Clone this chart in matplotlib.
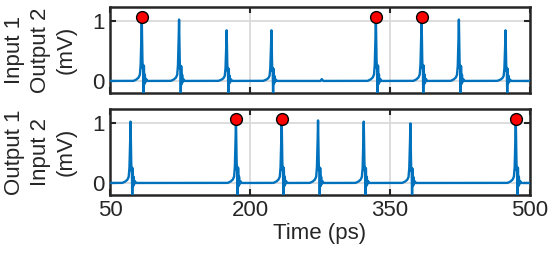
import numpy as np
import matplotlib.pyplot as plt

plt.rcParams['font.family'] = ['Liberation Sans', 'DejaVu Sans']

# spike times (ps) and peak heights (mV)
t_top = [84, 124, 175, 223, 335, 384, 424, 474]
h_top = [1.07, 1.03, 0.85, 0.85, 1.07, 1.07, 1.03, 0.85]
t_bot = [72, 185, 234, 273, 322, 372, 485]
h_bot = [1.03, 1.07, 1.07, 1.05, 1.03, 1.00, 1.07]

# marked spikes (red dots)
dot_top = [84, 335, 384]
dot_bot = [185, 234, 485]
dot_y = 1.08

# small blip in the top trace
blip_t = 277
blip_h = 0.03

# spike template: offset from peak (ps) and value relative to peak
k_off = [-9, -6, -3.5, -2, -1.2, -0.6, 0, 0.5, 1.0, 1.4, 1.8, 2.3, 2.8, 3.3, 3.9, 4.6, 6, 8]
k_val = [0.0, 0.02, 0.05, 0.10, 0.25, 0.55, 1.0, 0.45, 0.2, 0.25, -0.26, 0.24, -0.05, 0.1, -0.02, 0.03, 0.0, 0.0]

xt = [50, 200, 350, 500]
yt = [0, 1]

blue = '#0072BD'
fs = 16


def trace(times, heights):
    t = np.arange(50, 500.01, 0.1)
    y = np.zeros_like(t)
    for tc, hc in zip(times, heights):
        y += hc * np.interp(t - tc, k_off, k_val, left=0, right=0)
    return t, y


fig, axes = plt.subplots(2, 1, figsize=(5.53, 2.63), dpi=100)
fig.subplots_adjust(left=0.199, right=0.958, top=0.973, bottom=0.259, hspace=0.19)

t1, y1 = trace(t_top, h_top)
y1 += blip_h * np.interp(t1 - blip_t, [-1.5, 0, 1.5], [0, 1, 0], left=0, right=0)
t2, y2 = trace(t_bot, h_bot)

panels = [(axes[0], t1, y1, dot_top, 'Input 1\nOutput 2\n(mV)'),
          (axes[1], t2, y2, dot_bot, 'Output 1\nInput 2\n(mV)')]

for ax, t, y, dots, lab in panels:
    ax.plot(t, y, color=blue, lw=1.7, zorder=3)
    ax.plot(dots, [dot_y] * len(dots), 'o', ms=8.5, mfc='#FF0000', mec='k',
            mew=1.0, zorder=4, clip_on=False)
    ax.set_xlim(50, 500)
    ax.set_ylim(-0.2, 1.24)
    ax.set_xticks(xt)
    ax.set_yticks(yt)
    ax.grid(True, color='#DADADA', lw=1.3)
    ax.set_axisbelow(True)
    ax.tick_params(direction='in', length=4, width=1.5, top=True, right=True,
                   labelsize=fs, color='#262626', labelcolor='#262626', pad=4)
    for s in ax.spines.values():
        s.set_linewidth(1.8)
        s.set_color('#262626')
    ax.set_ylabel(lab, fontsize=fs, color='#262626', linespacing=1.3, labelpad=11)

axes[0].set_xticklabels([])
axes[1].set_xlabel('Time (ps)', fontsize=fs, color='#262626', labelpad=1)

plt.savefig('out.png', dpi=100)
